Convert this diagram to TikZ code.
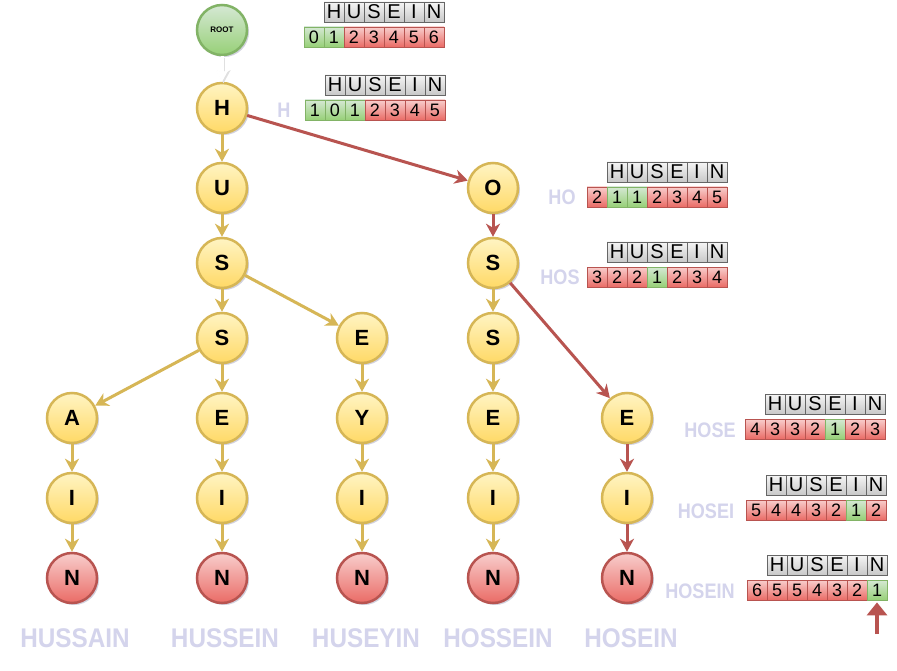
\documentclass[tikz,border=0pt]{standalone}
\usepackage{fontspec}
\setmainfont{Liberation Sans}
\usetikzlibrary{arrows.meta,shadows}
\definecolor{ylwb}{HTML}{D6B656}
\definecolor{ylwt}{HTML}{FFF4C3}
\definecolor{ylwbot}{HTML}{FFD966}
\definecolor{redb}{HTML}{B85450}
\definecolor{redt}{HTML}{F8CECC}
\definecolor{redbot}{HTML}{EA6B66}
\definecolor{grnb}{HTML}{82B366}
\definecolor{grnt}{HTML}{D5E8D4}
\definecolor{grnbot}{HTML}{97D077}
\definecolor{grayb}{HTML}{666666}
\definecolor{grayt}{HTML}{F5F5F5}
\definecolor{graybot}{HTML}{C8C8C8}
\definecolor{shad}{HTML}{D4D4EC}
\tikzset{
  nshadow/.style={drop shadow={shadow xshift=2pt,shadow yshift=-2pt,opacity=0.18,fill=blue!30!black}},
  letter/.style={circle,minimum size=50pt,inner sep=0pt,line width=2.5pt,nshadow,
     font=\fontsize{22}{22}\selectfont\bfseries},
  yn/.style={letter,draw=ylwb,top color=ylwt,bottom color=ylwbot},
  rn/.style={letter,draw=redb,top color=redt,bottom color=redbot},
  gn/.style={letter,draw=grnb,top color=grnt,bottom color=grnbot,font=\fontsize{8}{8}\selectfont\bfseries},
  ye/.style={draw=ylwb,line width=3pt,-{Stealth[length=13pt,width=14pt,inset=4pt]}},
  re/.style={draw=redb,line width=3pt,-{Stealth[length=13pt,width=14pt,inset=4pt]}},
  cellbase/.style={rectangle,minimum width=20pt,minimum height=20pt,inner sep=0pt,line width=0.8pt,
     font=\fontsize{18}{18}\selectfont},
  hcell/.style={cellbase,draw=grayb,top color=grayt,bottom color=graybot,font=\fontsize{20}{20}\selectfont},
  cellg/.style={cellbase,draw=grnb,top color=grnt,bottom color=grnbot},
  cellr/.style={cellbase,draw=redb,top color=redt,bottom color=redbot},
  lbl/.style={text=shad,font=\fontsize{21}{21}\selectfont\bfseries,inner sep=0pt},
  blbl/.style={text=shad,font=\fontsize{27}{27}\selectfont\bfseries,inner sep=0pt},
}
\newcommand{\mktab}[4]{%
  \foreach \l [count=\i from 1] in {H,U,S,E,I,N}
    \node[hcell] (#1h\i) at ({#2+10+20*\i},{#3-25}) {\l};
  \foreach \d/\c [count=\i from 0] in {#4}
    \node[cell\c] (#1n\i) at ({#2+10+20*\i},#3) {\d};
}
\newcommand{\slbl}[4]{%
  \node[lbl] (#1) at (#2,#3) {\scalebox{0.86}[1]{#4}};
}
\newcommand{\blbl}[4]{%
  \node[blbl] (#1) at (#2,#3) {\scalebox{0.9}[1]{#4}};
}
\begin{document}
\begin{tikzpicture}[x=1pt,y=-1pt]
\useasboundingbox[fill=white] (0,0) rectangle (897,671);
% nodes
\node[gn] (root) at (222,30) {ROOT};
\node[yn] (H) at (222,108) {H};
\node[yn] (U) at (222,188) {U};
\node[yn] (S1) at (222,263) {S};
\node[yn] (S2) at (222,338) {S};
\node[yn] (E3) at (362,338) {E};
\node[yn] (A) at (72,418) {A};
\node[yn] (E2) at (222,418) {E};
\node[yn] (Y) at (362,418) {Y};
\node[yn] (I1) at (72,498) {I};
\node[yn] (I2) at (222,498) {I};
\node[yn] (I3) at (362,498) {I};
\node[rn] (N1) at (72,578) {N};
\node[rn] (N2) at (222,578) {N};
\node[rn] (N3) at (362,578) {N};
\node[yn] (O) at (493,188) {O};
\node[yn] (S4) at (493,263) {S};
\node[yn] (S5) at (493,338) {S};
\node[yn] (E4) at (493,418) {E};
\node[yn] (I4) at (493,498) {I};
\node[rn] (N4) at (493,578) {N};
\node[yn] (E5) at (627,418) {E};
\node[yn] (I5) at (627,498) {I};
\node[rn] (N5) at (627,578) {N};
% edges
\draw[draw=black!12,line width=3pt,-{Stealth[length=13pt,width=14pt,inset=4pt]},transform canvas={xshift=1.5pt,yshift=-1.5pt}] (root) -- (H);
\draw[draw=white,line width=3pt,-{Stealth[length=13pt,width=14pt,inset=4pt]}] (root) -- (H);
\draw[ye] (H) -- (U);
\draw[ye] (U) -- (S1);
\draw[ye] (S1) -- (S2);
\draw[ye] (S1) -- (E3);
\draw[ye] (S2) -- (A);
\draw[ye] (S2) -- (E2);
\draw[ye] (A) -- (I1);
\draw[ye] (I1) -- (N1);
\draw[ye] (E2) -- (I2);
\draw[ye] (I2) -- (N2);
\draw[ye] (E3) -- (Y);
\draw[ye] (Y) -- (I3);
\draw[ye] (I3) -- (N3);
\draw[ye] (S4) -- (S5);
\draw[ye] (S5) -- (E4);
\draw[ye] (E4) -- (I4);
\draw[ye] (I4) -- (N4);
\draw[re] (H) -- (O);
\draw[re] (O) -- (S4);
\draw[re] (S4) -- (E5);
\draw[re] (E5) -- (I5);
\draw[re] (I5) -- (N5);
% tables
\mktab{ta}{304}{37}{0/g,1/g,2/r,3/r,4/r,5/r,6/r}
\mktab{tb}{305}{110}{1/g,0/g,1/g,2/r,3/r,4/r,5/r}
\mktab{tc}{587}{197}{2/r,1/g,1/g,2/r,3/r,4/r,5/r}
\mktab{td}{587}{277}{3/r,2/r,2/r,1/g,2/r,3/r,4/r}
\mktab{te}{745}{429}{4/r,3/r,3/r,2/r,1/g,2/r,3/r}
\mktab{tf}{746}{510}{5/r,4/r,4/r,3/r,2/r,1/g,2/r}
\mktab{tg}{747}{590}{6/r,5/r,5/r,4/r,3/r,2/r,1/g}
% prefix labels
\slbl{lH}{284}{110}{H}
\slbl{lHO}{562}{197}{HO}
\slbl{lHOS}{560}{277}{HOS}
\slbl{lHOSE}{710}{430}{HOSE}
\slbl{lHOSEI}{706}{511}{HOSEI}
\slbl{lHOSEIN}{700}{591}{HOSEIN}
% bottom labels
\blbl{b1}{75}{638}{HUSSAIN}
\blbl{b2}{225}{638}{HUSSEIN}
\blbl{b3}{366}{638}{HUSEYIN}
\blbl{b4}{498}{638}{HOSSEIN}
\blbl{b5}{631}{638}{HOSEIN}
% pointer arrow
\coordinate (pt) at (877,634);
\draw[draw=redb,line width=4pt,-{Triangle[length=13pt,width=20pt]},shorten >=2pt] (pt) -- (tgn6.south);
\end{tikzpicture}
\end{document}
